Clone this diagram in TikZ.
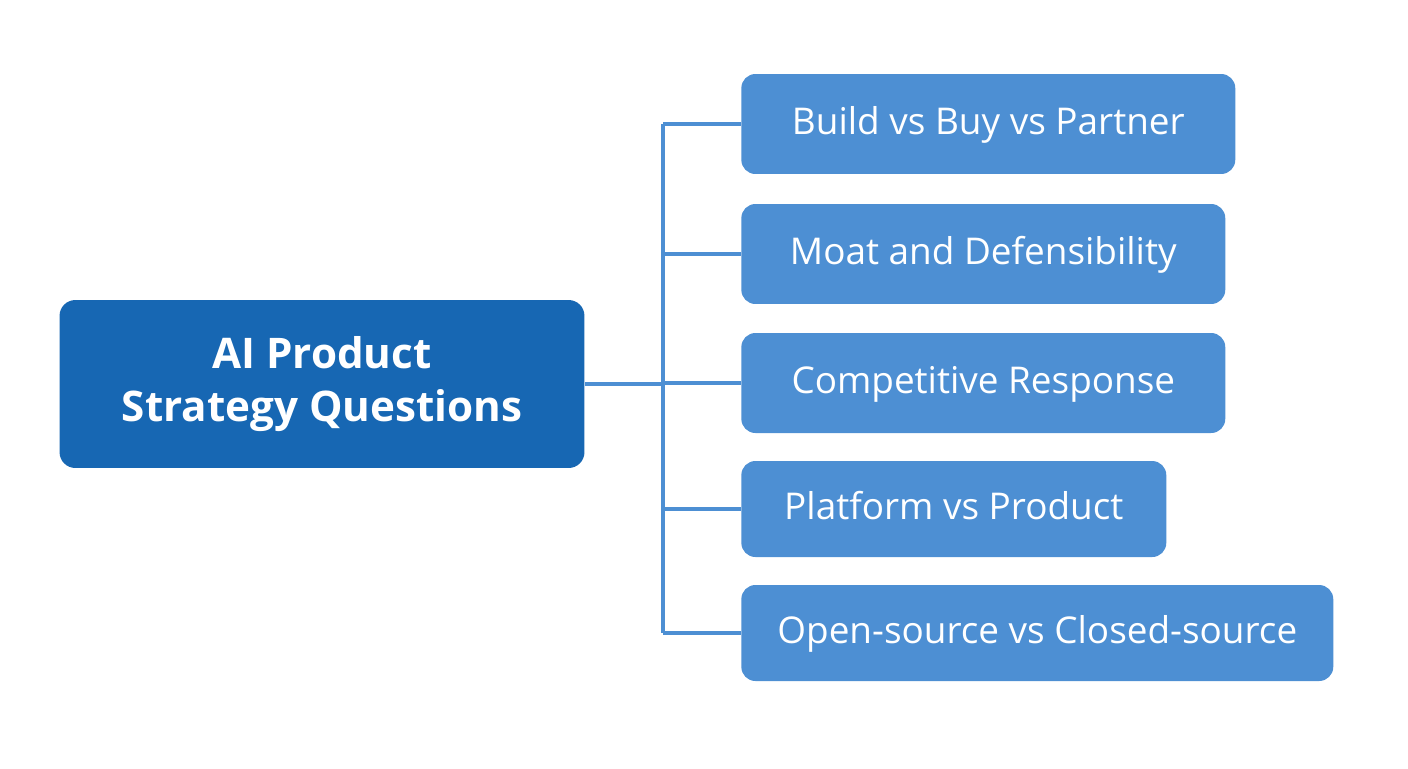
\documentclass[tikz,border=0pt]{standalone}
\usepackage{fontspec}
\setmainfont{Open Sans}
\usetikzlibrary{positioning}
\definecolor{hubblue}{HTML}{1767B3}
\definecolor{itemblue}{HTML}{4D8FD3}
\definecolor{linkblue}{HTML}{4D8FD3}

\begin{document}
\begin{tikzpicture}[
    x=0.02cm, y=-0.02cm,
    hub/.style={rectangle, rounded corners=9pt, fill=hubblue, text=white,
                minimum width=10.5cm, minimum height=3.36cm, align=center,
                font=\fontsize{24}{30}\selectfont\bfseries},
    item/.style={rectangle, rounded corners=8pt, fill=itemblue, text=white,
                 anchor=west, minimum height=2cm, inner xsep=0.56cm,
                 text height=0.55cm, text depth=0.15cm,
                 font=\fontsize{21}{25}\selectfont},
    link/.style={draw=linkblue, line width=2.2pt}
]
\useasboundingbox (0,0) rectangle (1408,768);

% Hub
\node[hub] (hub) at (322,384) {AI Product\\Strategy Questions};

% Questions
\node[item, minimum width=9.88cm] (q1) at (741,124) {Build vs Buy vs Partner};
\node[item, minimum width=9.68cm] (q2) at (741,254) {Moat and Defensibility};
\node[item, minimum width=9.68cm] (q3) at (741,383) {Competitive Response};
\node[item, minimum width=8.5cm, minimum height=1.92cm] (q4) at (741,509) {Platform vs Product};
\node[item, minimum width=11.84cm, minimum height=1.92cm] (q5) at (741,633) {Open-source vs Closed-source};

% Tree
\coordinate (top) at (663,124);
\coordinate (bot) at (663,633);
\coordinate (mid) at (663,384);
\draw[link] (hub.east |- mid) -- (mid);
\draw[link] (top) -- (bot);
\foreach \q in {q1,q2,q3,q4,q5}
  \draw[link] (top |- \q.west) -- (\q.west);

\end{tikzpicture}
\end{document}
